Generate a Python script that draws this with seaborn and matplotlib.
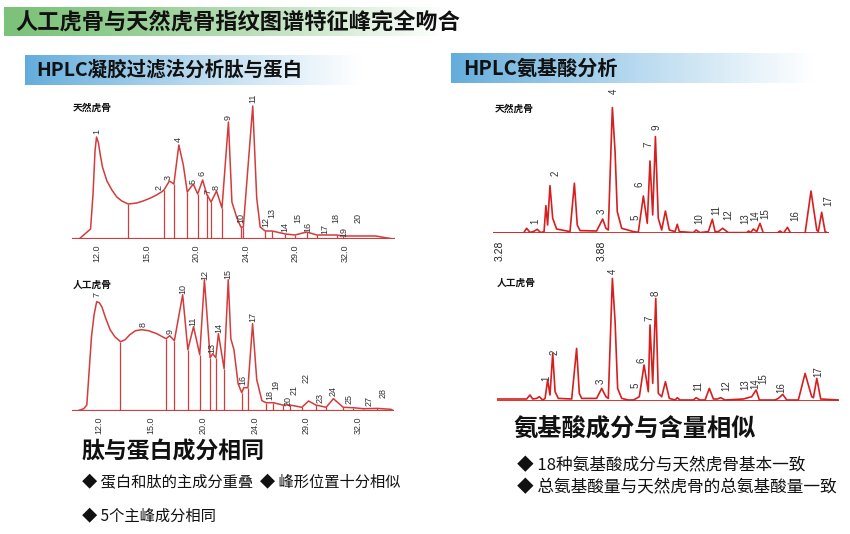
import numpy as np
import pandas as pd
import matplotlib
matplotlib.use("Agg")
import matplotlib.pyplot as plt
from matplotlib.colors import to_rgb
import seaborn as sns

sns.set_theme(style="white")
plt.rcParams['font.family'] = ['Noto Sans CJK SC', 'DejaVu Sans']

W, H = 850, 534

# ---------------- text ----------------
title = "人工虎骨与天然虎骨指纹图谱特征峰完全吻合"
gel_title = "HPLC凝胶过滤法分析肽与蛋白"
aa_title = "HPLC氨基酸分析"
nat_name = "天然虎骨"
syn_name = "人工虎骨"
gel_head = "肽与蛋白成分相同"
gel_notes = ["◆ 蛋白和肽的主成分重叠  ◆ 峰形位置十分相似", "◆ 5个主峰成分相同"]
aa_head = "氨基酸成分与含量相似"
aa_notes = ["◆ 18种氨基酸成分与天然虎骨基本一致", "◆ 总氨基酸量与天然虎骨的总氨基酸量一致"]

# ---------------- gel filtration (x in tick-index units) ----------------
gel_ticks = ["12.0", "15.0", "20.0", "24.0", "29.0", "32.0"]

gel_nat_x = [-0.36, -0.13, -0.08, -0.04, -0.01, 0.03, 0.06, 0.11, 0.20, 0.30, 0.40, 0.50,
             0.63, 0.80, 0.93, 1.08, 1.20, 1.30, 1.35, 1.46, 1.55, 1.65, 1.74, 1.82, 1.94,
             2.03, 2.13, 2.21, 2.30, 2.41, 2.52, 2.65, 2.72, 2.82, 2.90, 2.95, 3.14, 3.22,
             3.29, 3.39, 3.53, 3.80, 3.99, 4.23, 4.43, 4.83, 4.96, 5.62, 5.97]
gel_nat_y = [0, 10, 45, 88, 102, 96, 86, 72, 58, 49, 42, 38,
             35, 36, 38, 41, 44, 47, 49, 58, 55, 94, 74, 47, 55,
             45, 59, 45, 37, 48, 31, 117, 37, 21, 12, 12, 133, 41,
             12, 8, 8, 5, 4, 7, 4, 4, 3, 3, 0]
gel_nat_cut_x = [0.63, 1.35, 1.55, 1.82, 2.03, 2.21, 2.30, 2.52, 2.90, 2.95, 3.39, 3.53,
                 3.80, 3.99, 4.23, 4.43, 4.83, 4.96]
gel_nat_cut_y = [35, 49, 55, 47, 45, 45, 37, 31, 12, 12, 8, 8, 5, 4, 7, 4, 4, 3]
gel_nat_lab = [str(i) for i in range(1, 21)]
gel_nat_lab_x = [-0.01, 1.26, 1.44, 1.64, 1.93, 2.12, 2.24, 2.41, 2.65, 2.90, 3.14, 3.41,
                 3.53, 3.78, 4.04, 4.26, 4.60, 4.82, 4.98, 5.27]
gel_nat_lab_y = [108, 51, 62, 99, 57, 66, 47, 51, 121, 21, 141, 17,
                 26, 12, 21, 12, 10, 21, 7, 21]

gel_syn_x = [-0.41, -0.30, -0.24, -0.15, -0.10, -0.05, 0.00, 0.05, 0.12, 0.21, 0.30, 0.41,
             0.50, 0.59, 0.70, 0.82, 0.95, 1.11, 1.29, 1.36, 1.45, 1.61, 1.71, 1.82, 1.94,
             2.03, 2.14, 2.19, 2.25, 2.30, 2.41, 2.49, 2.54, 2.60, 2.68, 2.75, 2.79, 2.87,
             2.96, 3.04, 3.14, 3.22, 3.36, 3.54, 3.68, 3.91, 4.04, 4.18, 4.38, 4.52, 4.71,
             4.90, 5.10, 5.37, 5.63, 5.68]
gel_syn_y = [0, 2, 5.7, 74, 96, 109, 108, 104, 93, 81, 74, 69,
             71, 76, 80, 81, 80, 77, 72, 75, 70, 116, 61, 84, 56,
             131, 53, 57, 53, 77, 42, 131, 72, 61, 27, 18, 23, 23,
             87, 31, 10, 8, 8, 5.7, 5.7, 3.4, 9.7, 5.7, 3.4, 12, 3.4,
             3, 2, 2.3, 1.4, 0]
gel_syn_cut_x = [0.41, 1.29, 1.45, 1.71, 1.94, 2.14, 2.25, 2.41, 2.75, 2.87, 3.22, 3.36,
                 3.54, 3.68, 3.91, 4.18, 4.38, 4.71, 4.90, 5.10, 5.37]
gel_syn_cut_y = [69, 72, 70, 61, 56, 53, 53, 42, 18, 23, 8, 8,
                 5.7, 5.7, 3.4, 5.7, 3.4, 3.4, 3, 2, 2.3]
gel_syn_lab = ["7", "8", "9", "10", "11", "12", "13", "14", "15", "16", "17", "18", "19",
               "20", "21", "22", "23", "24", "25", "27", "28"]
gel_syn_lab_x = [-0.05, 0.84, 1.36, 1.61, 1.81, 2.03, 2.17, 2.31, 2.49, 2.78, 2.96, 3.30,
                 3.41, 3.65, 3.76, 4.00, 4.26, 4.51, 4.83, 5.21, 5.47]
gel_syn_lab_y = [116, 86, 79, 122, 89, 136, 63, 83, 137, 31, 94, 16,
                 26, 10, 21, 33, 13, 20, 12, 10, 18]

# ---------------- amino acid HPLC (retention time) ----------------
aa_ticks = [3.28, 3.88]

aa_nat_t = [3.241, 3.418, 3.437, 3.457, 3.477, 3.500, 3.520, 3.540, 3.551, 3.561, 3.575, 3.591,
            3.614, 3.693, 3.719, 3.736, 3.752, 3.850, 3.886, 3.905, 3.919, 3.943, 3.959, 3.972,
            3.998, 4.067, 4.096, 4.126, 4.149, 4.165, 4.181, 4.197, 4.214, 4.234, 4.256, 4.279,
            4.313, 4.326, 4.338, 4.421, 4.437, 4.460, 4.509, 4.533, 4.549, 4.568, 4.594, 4.627,
            4.736, 4.747, 4.759, 4.775, 4.795, 4.814, 4.834, 4.913, 4.932, 4.952, 4.976, 4.995,
            5.080, 5.115, 5.149, 5.158, 5.178, 5.198, 5.217]
aa_nat_h = [0, 0, 5, 1, 1.7, 4, 0.7, 1.7, 27.7, 8.3, 47.7, 15,
            4.3, 1.7, 50, 8.3, 2.7, 2.3, 14.3, 5, 3.3, 125.7, 81.7, 21.7,
            5, 1.7, 1, 37.3, 10, 72.3, 18.3, 96.7, 15, 3.3, 22.3, 3.3,
            1.7, 9, 1.7, 0.7, 3.3, 0.7, 1.7, 14, 1.7, 1.7, 5, 0.7,
            0.7, 2.3, 0.7, 4.3, 1.7, 10, 0, 0, 2.3, 0, 6, 0,
            0, 42.3, 3.3, 1.7, 21, 1.7, 0]
aa_nat_lab = ["1", "2", "3", "4", "5", "6", "7", "9", "10", "11", "12", "13", "14", "15",
              "16", "17"]
aa_nat_lab_t = [3.487, 3.605, 3.880, 3.953, 4.077, 4.106, 4.159, 4.204, 4.454, 4.559, 4.627,
                4.730, 4.785, 4.844, 5.021, 5.217]
aa_nat_lab_h = [12.3, 60, 22.3, 142.3, 15.7, 49, 89, 105.7, 15, 23.3, 18.3,
                15, 17.7, 20, 17.7, 32.3]

aa_syn_t = [3.260, 3.437, 3.457, 3.473, 3.496, 3.512, 3.532, 3.546, 3.561, 3.575, 3.591, 3.605,
            3.624, 3.703, 3.732, 3.748, 3.762, 3.850, 3.880, 3.905, 3.919, 3.943, 3.959, 3.974,
            3.998, 4.037, 4.067, 4.102, 4.130, 4.155, 4.165, 4.181, 4.199, 4.214, 4.234, 4.256,
            4.279, 4.313, 4.326, 4.342, 4.421, 4.437, 4.460, 4.490, 4.515, 4.539, 4.562, 4.582,
            4.608, 4.716, 4.765, 4.791, 4.810, 4.903, 4.922, 4.948, 4.972, 5.040, 5.080, 5.119,
            5.129, 5.149, 5.172, 5.277]
aa_syn_h = [1.7, 1.7, 5.7, 1.7, 2.3, 4, 0.7, 2.3, 20.7, 5.7, 47.3, 9,
            2.3, 1.7, 52.3, 7.3, 2.3, 2.3, 12.3, 4, 2.3, 122.3, 79, 12.3,
            2.3, 0.7, 0.7, 4, 35.7, 9, 75.7, 17.3, 102.3, 7.3, 4, 19,
            2.3, 0.7, 3, 0.7, 0.7, 3, 0.7, 0.7, 12.3, 1.7, 1.7, 3,
            0.7, 1.7, 4, 10.7, 0.7, 0.7, 2.3, 6.3, 0.7, 0.7, 27.3, 4,
            3, 22.3, 1.7, 0.7]
aa_syn_lab = ["1", "2", "3", "4", "5", "6", "7", "8", "11", "12", "13", "14", "15", "16", "17"]
aa_syn_lab_t = [3.551, 3.599, 3.874, 3.945, 4.077, 4.116, 4.161, 4.201, 4.450, 4.617, 4.730,
                4.787, 4.836, 4.942, 5.158]
aa_syn_lab_h = [22.3, 48.3, 19, 129.7, 15, 40.7, 82.3, 107.3, 15, 15, 15.7,
                17.3, 21.7, 13, 29]

RED_GEL = "#d23c3c"
RED_AA = "#d61f1f"

fig = plt.figure(figsize=(W / 100, H / 100), dpi=100)

# background with gradient banners (pixel layout)
bg = fig.add_axes([0, 0, 1, 1])
bg.axis("off")


def banner(x0, x1, y0, y1, color, power):
    rgb = np.array(to_rgb(color))
    f = np.linspace(0, 1, 256)[None, :, None] ** power
    img = rgb * (1 - f) + f
    bg.imshow(img, extent=(x0, x1, y1, y0), aspect="auto", interpolation="bilinear")


banner(4, 445, 7, 36, "#7cc27a", 1.3)
banner(25, 362, 55, 85, "#62acdc", 0.9)
banner(451, 814, 53, 83, "#62acdc", 0.9)
bg.set_xlim(0, W)
bg.set_ylim(H, 0)

bg.text(15, 22, title, fontsize=16, fontweight="bold", va="center", ha="left", color="#111")
bg.text(36, 70, gel_title, fontsize=14, fontweight="bold", va="center", ha="left", color="#111")
bg.text(463, 68, aa_title, fontsize=14.5, fontweight="bold", va="center", ha="left", color="#111")

bg.text(82, 452, gel_head, fontsize=16.5, fontweight="bold", va="center", ha="left", color="#111")
bg.text(82, 483, gel_notes[0], fontsize=11, va="center", ha="left", color="#111")
bg.text(82, 516, gel_notes[1], fontsize=11, va="center", ha="left", color="#111")
bg.text(513, 430, aa_head, fontsize=17.5, fontweight="bold", va="center", ha="left", color="#111")
bg.text(517, 466, aa_notes[0], fontsize=12, va="center", ha="left", color="#111")
bg.text(517, 488, aa_notes[1], fontsize=12, va="center", ha="left", color="#111")


def px_axes(x0, x1, ybot, ytop):
    ax = fig.add_axes([x0 / W, 1 - ybot / H, (x1 - x0) / W, (ybot - ytop) / H])
    ax.patch.set_alpha(0)
    return ax


def chrom(ax, x, y, color, lw, labels, lx, ly, fs, name, name_xy, xlim):
    df = pd.DataFrame({"x": x, "y": y})
    sns.lineplot(data=df, x="x", y="y", ax=ax, color=color, lw=lw,
                 sort=False, estimator=None)
    for lab, a, b in zip(labels, lx, ly):
        ax.text(a, b, lab, rotation=90, ha="center", va="center", fontsize=fs,
                family="Liberation Sans", color="#333")
    ax.text(name_xy[0], name_xy[1], name, fontsize=7, fontweight="bold",
            ha="left", va="center", color="#111")
    ax.set_xlim(xlim)
    ax.set_ylim(0, 150)
    ax.set_xlabel("")
    ax.set_ylabel("")
    ax.set_yticks([])
    sns.despine(ax=ax, left=True, bottom=True)


# top-left: natural, gel filtration
ax1 = px_axes(72.2, 394.6, 239, 89)
chrom(ax1, gel_nat_x, gel_nat_y, RED_GEL, 1.1, gel_nat_lab, gel_nat_lab_x, gel_nat_lab_y,
      6.5, nat_name, (-0.48, 131), (-0.5, 6.0))
ax1.vlines(gel_nat_cut_x, 0, gel_nat_cut_y, color=RED_GEL, lw=0.9)
ax1.axhline(0, color=RED_GEL, lw=1.6)
ax1.set_xticks(range(len(gel_ticks)))
ax1.set_xticklabels(gel_ticks, rotation=90, fontsize=6.5, family="Liberation Sans", color="#333")
ax1.tick_params(axis="x", length=0, pad=4)

# bottom-left: synthetic, gel filtration
ax2 = px_axes(71.8, 393.5, 410.7, 260.7)
chrom(ax2, gel_syn_x, gel_syn_y, RED_GEL, 1.1, gel_syn_lab, gel_syn_lab_x, gel_syn_lab_y,
      6.5, syn_name, (-0.51, 126), (-0.53, 5.68))
ax2.vlines(gel_syn_cut_x, 0, gel_syn_cut_y, color=RED_GEL, lw=0.9)
ax2.axhline(0, color=RED_GEL, lw=1.6)
ax2.set_xticks(range(len(gel_ticks)))
ax2.set_xticklabels(gel_ticks, rotation=90, fontsize=6.5, family="Liberation Sans", color="#333")
ax2.tick_params(axis="x", length=0, pad=4)

# top-right: natural, amino acids
ax3 = px_axes(493.2, 828.8, 233.3, 83.3)
chrom(ax3, aa_nat_t, aa_nat_h, RED_AA, 1.2, aa_nat_lab, aa_nat_lab_t, aa_nat_lab_h,
      7, nat_name, (3.250, 124), (3.24, 5.22))
ax3.axhline(0, color=RED_AA, lw=2)
ax3.set_xticks(aa_ticks)
ax3.set_xticklabels([f"{t:.2f}" for t in aa_ticks], rotation=90, fontsize=7.5,
                    family="Liberation Sans", color="#222")
ax3.tick_params(axis="x", length=0, pad=5.5)

# bottom-right: synthetic, amino acids
ax4 = px_axes(496.6, 838.5, 400.7, 250.7)
chrom(ax4, aa_syn_t, aa_syn_h, RED_AA, 1.2, aa_syn_lab, aa_syn_lab_t, aa_syn_lab_h,
      7, syn_name, (3.262, 118), (3.26, 5.277))
ax4.axhline(0, color=RED_AA, lw=2)
ax4.set_xticks([])

fig.savefig("out.png", dpi=100)
